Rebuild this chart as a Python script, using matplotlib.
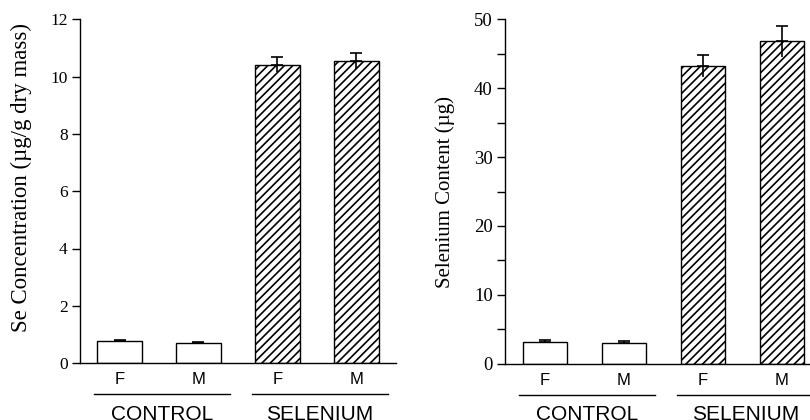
import matplotlib
matplotlib.use("Agg")
import matplotlib.pyplot as plt
import matplotlib.transforms as mtransforms
from matplotlib.ticker import MultipleLocator
import numpy as np

# ---- data ----
groups = ["CONTROL", "SELENIUM"]
sexes = ["F", "M", "F", "M"]
conc_vals = [0.78, 0.69, 10.42, 10.55]
conc_err = [0.03, 0.04, 0.26, 0.28]
content_vals = [3.2, 3.05, 43.2, 46.8]
content_err = [0.2, 0.18, 1.55, 2.2]
hatched = [False, False, True, True]

plt.rcParams['hatch.linewidth'] = 1.2
serif = ['Liberation Serif', 'DejaVu Serif']
sans = ['Liberation Sans', 'DejaVu Sans']

fig = plt.figure(figsize=(8.1, 4.2), dpi=100)
ax1 = fig.add_axes([0.0988, 0.1357, 0.390, 0.8179])
ax2 = fig.add_axes([0.6238, 0.134, 0.390, 0.820])

x = np.arange(len(sexes))


def draw(ax, vals, errs, ymax, major, minor, ylabel, label_x, label_y,
         label_fs, tick_fs):
    for xi, v, h in zip(x, vals, hatched):
        ax.bar(xi, v, width=0.56, facecolor='white', edgecolor='black',
               linewidth=1.0, hatch='////' if h else None, zorder=2)
    zeros = np.zeros(len(errs))
    ax.errorbar(x, vals, yerr=[zeros, errs], fmt='none', ecolor='black',
                elinewidth=1.2, capsize=4.5, capthick=1.2, zorder=3)
    ax.errorbar(x, vals, yerr=[errs, zeros], fmt='none', ecolor='black',
                elinewidth=1.2, capsize=0, zorder=3)
    ax.set_xlim(-0.5, 3.5)
    ax.set_ylim(0, ymax)
    ax.yaxis.set_major_locator(MultipleLocator(major))
    if minor:
        ax.yaxis.set_minor_locator(MultipleLocator(minor))
    ax.spines['top'].set_visible(False)
    ax.spines['right'].set_visible(False)
    ax.spines['left'].set_linewidth(1.0)
    ax.spines['bottom'].set_linewidth(1.0)
    ax.set_xticks([])
    ax.tick_params(axis='y', which='both', direction='out', length=6,
                   width=1.0, labelsize=tick_fs, pad=3)
    for lab in ax.get_yticklabels():
        lab.set_family(serif)
    ax.set_ylabel(ylabel, family=serif, fontsize=label_fs)
    ax.yaxis.set_label_coords(label_x, label_y)

    trans = mtransforms.blended_transform_factory(ax.transData, ax.transAxes)
    for xi, s in zip(x, sexes):
        ax.text(xi, -0.049, s, transform=trans, ha='center', va='center',
                family=sans, fontsize=12, clip_on=False)
    centers = [0.53, 2.53]
    for c, g in zip(centers, groups):
        ax.plot([c - 0.85, c + 0.87], [-0.090, -0.090], transform=trans,
                color='black', linewidth=1.0, clip_on=False)
        ax.text(c + 0.01, -0.121, g, transform=trans, ha='center', va='top',
                family=sans, fontsize=15, clip_on=False)


draw(ax1, conc_vals, conc_err, 12, 2, None,
     "Se Concentration (\u00b5g/g dry mass)", -0.152, 0.54, 16.5, 12.5)
draw(ax2, content_vals, content_err, 50, 10, 5,
     "Selenium Content (\u00b5g)", -0.159, 0.5, 15, 13.5)

fig.savefig("out.png", dpi=100)
